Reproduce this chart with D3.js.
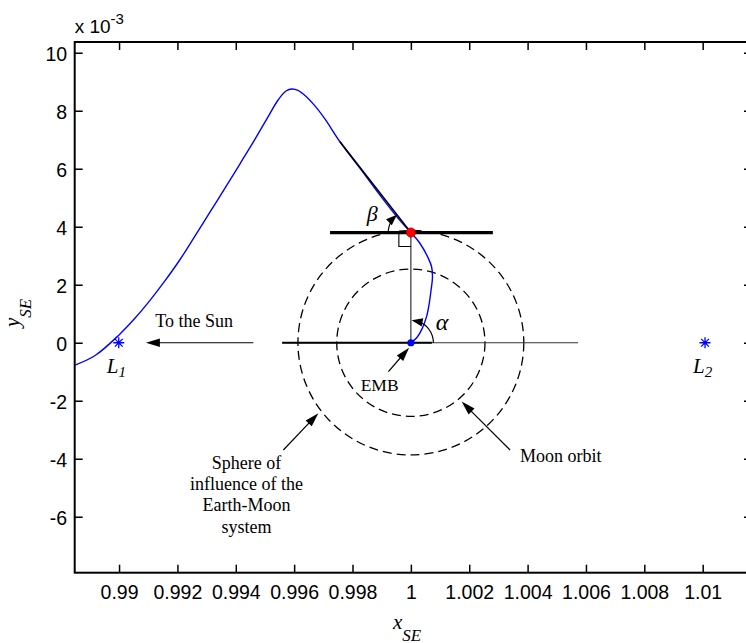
<!DOCTYPE html>
<html>
<head>
<meta charset="utf-8">
<script src="https://cdn.jsdelivr.net/npm/d3@7"></script>
<style>
  body { margin: 0; background: #fff; }
  svg { display: block; }
</style>
</head>
<body>
<svg id="chart" width="746" height="643"></svg>
<script>
// Transfer trajectory in the Sun–Earth rotating frame (y in units of 1e-3)
const trajX = [0.98849, 0.98918, 0.99000, 0.99055, 0.99106, 0.99157, 0.99209, 0.99260,
               0.99312, 0.99363, 0.99415, 0.99466, 0.99510, 0.99545, 0.99572, 0.99593,
               0.99613, 0.99641, 0.99672, 0.99706, 0.99757, 0.99826, 0.99894, 0.99963,
               1.00000, 1.00031, 1.00060, 1.00071, 1.00074, 1.00069, 1.00063, 1.00054,
               1.00037, 1.00020, 1.00000];
const trajY = [-0.77, -0.44, 0.27, 0.85, 1.46, 2.13, 2.87, 3.68,
               4.51, 5.33, 6.18, 7.02, 7.78, 8.37, 8.68, 8.75,
               8.70, 8.49, 8.16, 7.71, 6.93, 6.01, 5.09, 4.21,
               3.80, 3.43, 2.91, 2.62, 2.26, 1.80, 1.36, 0.91,
               0.45, 0.17, 0.00];

// Axis ticks
const xTicks = [0.99, 0.992, 0.994, 0.996, 0.998, 1, 1.002, 1.004, 1.006, 1.008, 1.01];
const xTickLabels = ["0.99", "0.992", "0.994", "0.996", "0.998", "1", "1.002", "1.004", "1.006", "1.008", "1.01"];
const yTicks = [-6, -4, -2, 0, 2, 4, 6, 8, 10];
const yTickLabels = ["-6", "-4", "-2", "0", "2", "4", "6", "8", "10"];

// Libration points and named positions
const libX = [0.98999, 1.01008];
const libY = [0, 0];
const libSub = ["1", "2"];
const embPoint = [1.0, 0.0];          // Earth–Moon barycentre
const insertionPoint = [1.0, 3.8];    // entry point on the sphere of influence
const tangentStart = [0.99757, 6.93]; // velocity direction at entry
const moonOrbitRadius = 2.54;         // 1e-3
const soiRadius = 3.87;               // 1e-3

const svg = d3.select("#chart");
const x = d3.scaleLinear().domain([0.98848, 1.01169]).range([74.7, 752]);
const y = d3.scaleLinear().domain([-7.93, 10.37]).range([572.7, 42]);

const SANS = "'Liberation Sans', Arial, Helvetica, sans-serif";
const SERIF = "'Liberation Serif', 'Times New Roman', Times, serif";

// ---------- axes ----------
function styleAxis(g) {
  g.select(".domain").remove();
  g.selectAll(".tick line").attr("stroke", "#000").attr("stroke-width", 1.5);
  g.selectAll("text").attr("fill", "#000").attr("font-family", SANS).attr("font-size", 19.5);
}
svg.append("g")
  .attr("transform", `translate(0,${y.range()[0]})`)
  .call(d3.axisBottom(x).tickValues(xTicks).tickFormat((d, i) => xTickLabels[i]).tickSize(-8).tickPadding(12.5))
  .call(styleAxis);
svg.append("g")
  .attr("transform", `translate(0,${y.range()[1]})`)
  .call(d3.axisTop(x).tickValues(xTicks).tickFormat("").tickSize(-8))
  .call(styleAxis);
const yAxisG = svg.append("g")
  .attr("transform", `translate(${x.range()[0]},0)`)
  .call(d3.axisLeft(y).tickValues(yTicks).tickFormat((d, i) => yTickLabels[i]).tickSize(-8).tickPadding(7.5))
  .call(styleAxis);
yAxisG.selectAll("text").attr("dy", "0.4em");
svg.append("g")
  .attr("transform", `translate(${x.range()[1]},0)`)
  .call(d3.axisRight(y).tickValues(yTicks).tickFormat("").tickSize(-8))
  .call(styleAxis);

// frame
svg.append("rect")
  .attr("x", x.range()[0]).attr("y", y.range()[1])
  .attr("width", x.range()[1] - x.range()[0]).attr("height", y.range()[0] - y.range()[1])
  .attr("fill", "none").attr("stroke", "#000").attr("stroke-width", 2);

// exponent label
const expo = svg.append("text").attr("x", x.range()[0]).attr("y", 33)
  .attr("font-family", SANS).attr("font-size", 19).attr("fill", "#000");
expo.append("tspan").text("x 10");
expo.append("tspan").attr("font-size", 15).attr("dy", -9).text("-3");

// axis titles
const xl = svg.append("text").attr("x", 393).attr("y", 629)
  .attr("font-family", SERIF).attr("font-style", "italic").attr("font-size", 21).attr("fill", "#000");
xl.append("tspan").text("x");
xl.append("tspan").attr("font-size", 17).attr("dy", 11.5).text("SE");

const yl = svg.append("text").attr("transform", "translate(19,327) rotate(-90)")
  .attr("font-family", SERIF).attr("font-style", "italic").attr("font-size", 21).attr("fill", "#000");
yl.append("tspan").text("y");
yl.append("tspan").attr("font-size", 17).attr("dy", 11.5).text("SE");

// ---------- helpers ----------
const plot = svg.append("g");
function arrowHead(tx, ty, ang, len, hw) {
  // ang: direction the arrow travels (radians, screen coords)
  const bx = tx - len * Math.cos(ang), by = ty - len * Math.sin(ang);
  const nx = -Math.sin(ang) * hw, ny = Math.cos(ang) * hw;
  plot.append("path")
    .attr("d", `M${tx},${ty}L${bx + nx},${by + ny}L${bx - nx},${by - ny}Z`)
    .attr("fill", "#000");
}
function arrow(p0, p1, len = 14, hw = 4.2) {
  const x0 = x(p0[0]), y0 = y(p0[1]), x1 = x(p1[0]), y1 = y(p1[1]);
  const ang = Math.atan2(y1 - y0, x1 - x0);
  plot.append("line")
    .attr("x1", x0).attr("y1", y0)
    .attr("x2", x1 - (len - 2) * Math.cos(ang)).attr("y2", y1 - (len - 2) * Math.sin(ang))
    .attr("stroke", "#000").attr("stroke-width", 1.2);
  arrowHead(x1, y1, ang, len, hw);
}
function angleArc(center, r, a0, a1) {
  // a0, a1 in degrees, counter-clockwise from +x (data orientation)
  const cx = x(center[0]), cy = y(center[1]);
  const n = 30, pts = [];
  for (let i = 0; i <= n; i++) {
    const a = (a0 + (a1 - a0) * i / n) * Math.PI / 180;
    pts.push([cx + r * Math.cos(a), cy - r * Math.sin(a)]);
  }
  const trimmed = pts.slice(0, n - 6);
  plot.append("path").attr("d", d3.line()(trimmed))
    .attr("fill", "none").attr("stroke", "#000").attr("stroke-width", 1.2);
  const end = pts[n], prev = pts[n - 6];
  arrowHead(end[0], end[1], Math.atan2(end[1] - prev[1], end[0] - prev[0]), 11, 4.2);
}

// ---------- dashed circles ----------
[soiRadius, moonOrbitRadius].forEach(r => {
  plot.append("ellipse")
    .attr("cx", x(embPoint[0])).attr("cy", y(embPoint[1]))
    .attr("rx", x(embPoint[0] + r / 1000) - x(embPoint[0]))
    .attr("ry", y(embPoint[1]) - y(embPoint[1] + r))
    .attr("fill", "none").attr("stroke", "#000").attr("stroke-width", 1.3)
    .attr("stroke-dasharray", "9,5");
});

// ---------- reference lines ----------
plot.append("line")
  .attr("x1", x(0.99559)).attr("y1", y(0)).attr("x2", x(1.00573)).attr("y2", y(0))
  .attr("stroke", "#333").attr("stroke-width", 1.1);
plot.append("line")
  .attr("x1", x(0.99559)).attr("y1", y(0)).attr("x2", x(1.00072)).attr("y2", y(0))
  .attr("stroke", "#000").attr("stroke-width", 2);
plot.append("line")
  .attr("x1", x(embPoint[0])).attr("y1", y(embPoint[1]))
  .attr("x2", x(insertionPoint[0])).attr("y2", y(insertionPoint[1]))
  .attr("stroke", "#333").attr("stroke-width", 1.2);
// right-angle marker
plot.append("path")
  .attr("d", `M${x(insertionPoint[0]) - 12},${y(insertionPoint[1])}V${y(insertionPoint[1]) + 14}H${x(insertionPoint[0])}`)
  .attr("fill", "none").attr("stroke", "#000").attr("stroke-width", 1.1);

// ---------- trajectory ----------
plot.append("path")
  .datum(trajX.map((v, i) => [v, trajY[i]]))
  .attr("d", d3.line().x(d => x(d[0])).y(d => y(d[1])).curve(d3.curveCatmullRom.alpha(0.5)))
  .attr("fill", "none").attr("stroke", "#0000ff").attr("stroke-width", 1.4);

// horizontal local reference at the entry point
plot.append("line")
  .attr("x1", x(0.99723)).attr("y1", y(insertionPoint[1]))
  .attr("x2", x(1.00281)).attr("y2", y(insertionPoint[1]))
  .attr("stroke", "#000").attr("stroke-width", 3.2);
// velocity direction
plot.append("line")
  .attr("x1", x(tangentStart[0])).attr("y1", y(tangentStart[1]))
  .attr("x2", x(insertionPoint[0])).attr("y2", y(insertionPoint[1]))
  .attr("stroke", "#000").attr("stroke-width", 1.5);

// angle arcs
const tanAng = Math.atan2(y(insertionPoint[1]) - y(tangentStart[1]), x(insertionPoint[0]) - x(tangentStart[0])) * 180 / Math.PI;
angleArc(insertionPoint, 22.6, 180, 180 - tanAng);
angleArc(embPoint, 22.5, 0, 88);

// ---------- points ----------
plot.append("circle").attr("cx", x(insertionPoint[0])).attr("cy", y(insertionPoint[1])).attr("r", 4.6)
  .attr("fill", "#ff0000").attr("stroke", "#b00000").attr("stroke-width", 0.8);
plot.append("circle").attr("cx", x(embPoint[0])).attr("cy", y(embPoint[1])).attr("r", 3.6)
  .attr("fill", "#0000ff");

// libration point markers
libX.forEach((lx, i) => {
  const cx = x(lx), cy = y(libY[i]), r = 5.5;
  let d = "";
  [0, 45, 90, 135].forEach(a => {
    const t = a * Math.PI / 180;
    const dx = r * Math.cos(t), dy = r * Math.sin(t);
    d += `M${cx - dx},${cy - dy}L${cx + dx},${cy + dy}`;
  });
  plot.append("path").attr("d", d).attr("stroke", "#0000ff").attr("stroke-width", 1.3).attr("fill", "none");
});

// ---------- arrows ----------
arrow([0.99460, 0.0], [0.99092, 0.0]);        // to the Sun
arrow([0.99923, -1.0], [0.99994, -0.17]);     // EMB
arrow([0.99563, -3.70], [0.99683, -2.43]);    // sphere of influence
arrow([1.00340, -3.70], [1.00174, -2.03]);    // Moon orbit

// ---------- labels ----------
function serifText(px, py, str, anchor = "middle", size = 18) {
  return plot.append("text").attr("x", px).attr("y", py).attr("text-anchor", anchor)
    .attr("font-family", SERIF).attr("font-size", size).attr("fill", "#000").text(str);
}
serifText(x(0.99257), y(0.55), "To the Sun");
serifText(x(0.99893), y(-1.655), "EMB", "middle", 17.5);
["Sphere of", "influence of the", "Earth-Moon", "system"].forEach((s, i) => {
  serifText(x(0.99437), y(-4.345) + i * 21.3, s);
});
serifText(x(1.00374), y(-4.10), "Moon orbit", "start");

// libration labels
libX.forEach((lx, i) => {
  const t = plot.append("text").attr("x", x(lx) - 12).attr("y", y(libY[i]) + 30)
    .attr("font-family", SERIF).attr("font-style", "italic").attr("font-size", 21).attr("fill", "#000");
  t.append("tspan").text("L");
  t.append("tspan").attr("font-size", 15).attr("dy", 4).text(libSub[i]);
});

// Greek angle labels
plot.append("text").attr("x", x(insertionPoint[0]) - 44).attr("y", y(insertionPoint[1]) - 12)
  .attr("font-family", SERIF).attr("font-style", "italic").attr("font-size", 22).attr("fill", "#000").text("β");
plot.append("text").attr("x", x(embPoint[0]) + 25).attr("y", y(embPoint[1]) - 13)
  .attr("font-family", SERIF).attr("font-style", "italic").attr("font-size", 24).attr("fill", "#000").text("α");
</script>
</body>
</html>
